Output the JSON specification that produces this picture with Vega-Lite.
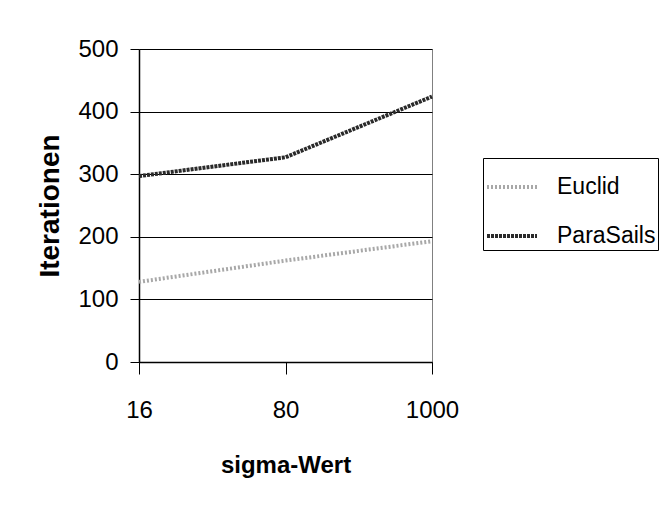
{
  "$schema": "https://vega.github.io/schema/vega-lite/v6.json",
  "width": 293,
  "height": 313,
  "autosize": {"type": "none"},
  "padding": {"left": 139, "top": 49, "right": 233, "bottom": 149},
  "background": "white",
  "data": {
    "values": [
      {"sigma": "16", "series": "Euclid", "value": 128},
      {"sigma": "80", "series": "Euclid", "value": 162},
      {"sigma": "1000", "series": "Euclid", "value": 193},
      {"sigma": "16", "series": "ParaSails", "value": 297},
      {"sigma": "80", "series": "ParaSails", "value": 327},
      {"sigma": "1000", "series": "ParaSails", "value": 424}
    ]
  },
  "mark": {"type": "line", "strokeWidth": 4, "clip": false},
  "encoding": {
    "x": {
      "field": "sigma",
      "type": "ordinal",
      "sort": ["16", "80", "1000"],
      "scale": {"type": "point", "padding": 0},
      "axis": {
        "title": "sigma-Wert",
        "labelAngle": 0,
        "labelFont": "Liberation Sans",
        "labelFontSize": 24,
        "labelColor": "#000",
        "labelPadding": 24,
        "tickSize": 12,
        "tickColor": "#000",
        "domainColor": "#000",
        "domainWidth": 1.5,
        "titleFont": "Liberation Sans",
        "titleFontWeight": "bold",
        "titleFontSize": 24,
        "titleColor": "#000",
        "titleBaseline": "alphabetic",
        "titleY": 110,
        "grid": false
      }
    },
    "y": {
      "field": "value",
      "type": "quantitative",
      "scale": {"domain": [0, 500], "nice": false},
      "axis": {
        "title": "Iterationen",
        "values": [0, 100, 200, 300, 400, 500],
        "labelFont": "Liberation Sans",
        "labelFontSize": 24,
        "labelColor": "#000",
        "labelPadding": 12,
        "tickSize": 9,
        "tickColor": "#000",
        "domainColor": "#000",
        "domainWidth": 1.5,
        "grid": true,
        "gridColor": "#000",
        "gridWidth": 1,
        "gridOpacity": 1,
        "titleFont": "Liberation Sans",
        "titleFontWeight": "bold",
        "titleFontSize": 28,
        "titleColor": "#000",
        "titleBaseline": "alphabetic",
        "titleX": -81
      }
    },
    "color": {
      "field": "series",
      "type": "nominal",
      "scale": {"domain": ["Euclid", "ParaSails"], "range": ["#a8a8a8", "#2a2a2a"]},
      "legend": {
        "title": null,
        "orient": "none",
        "legendX": 344,
        "legendY": 109,
        "symbolType": "stroke",
        "symbolSize": 2500,
        "symbolStrokeWidth": 4,
        "labelFont": "Liberation Sans",
        "labelFontSize": 23,
        "labelColor": "#000",
        "labelOffset": 18,
        "rowPadding": 10,
        "padding": 2,
        "strokeColor": "#000",
        "fillColor": "white"
      }
    },
    "strokeDash": {
      "field": "series",
      "type": "nominal",
      "scale": {"domain": ["Euclid", "ParaSails"], "range": [[2, 2], [3, 1]]},
      "legend": {
        "title": null,
        "orient": "none",
        "legendX": 344,
        "legendY": 109,
        "symbolType": "stroke",
        "symbolSize": 2500,
        "symbolStrokeWidth": 4,
        "labelFont": "Liberation Sans",
        "labelFontSize": 23,
        "labelColor": "#000",
        "labelOffset": 18,
        "rowPadding": 10,
        "padding": 2,
        "strokeColor": "#000",
        "fillColor": "white"
      }
    }
  },
  "config": {
    "view": {"stroke": "#808080", "strokeWidth": 1}
  }
}
